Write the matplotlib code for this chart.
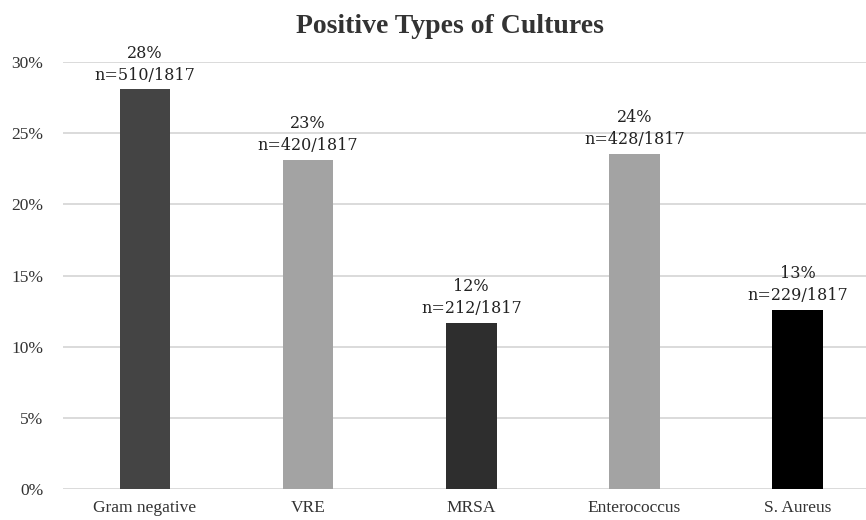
import matplotlib.pyplot as plt
from matplotlib.ticker import PercentFormatter

categories = ['Gram negative', 'VRE', 'MRSA', 'Enterococcus', 'S. Aureus']
counts = [510, 420, 212, 428, 229]
total = 1817
pct_labels = ['28%', '23%', '12%', '24%', '13%']
colors = ['#444444', '#a3a3a3', '#2e2e2e', '#a3a3a3', '#000000']

values = [c / total * 100 for c in counts]

plt.rcParams['font.family'] = ['Liberation Serif', 'DejaVu Serif']

fig = plt.figure(figsize=(8.66, 5.2), dpi=100)
ax = fig.add_axes([63 / 866, 1 - 489 / 520, (866 - 63) / 866, (489 - 62) / 520])

x = range(len(categories))
ax.bar(x, values, width=0.31, color=colors, zorder=3)

for xi, v, p, c in zip(x, values, pct_labels, counts):
    ax.annotate(f'{p}\nn={c}/{total}', (xi, v), xytext=(0, 4),
                textcoords='offset points', ha='center', va='bottom',
                fontsize=11.5, color='#222222', linespacing=1.4,
                family=['DejaVu Serif'])

ax.set_ylim(0, 30)
ax.set_xlim(-0.503, 4.42)
ax.set_yticks(range(0, 31, 5))
ax.yaxis.set_major_formatter(PercentFormatter(decimals=0))
ax.set_xticks(list(x))
ax.set_xticklabels(categories)
ax.grid(axis='y', color='#d4d4d4', linewidth=1.2, zorder=0)
for s in ax.spines.values():
    s.set_visible(False)
ax.tick_params(length=0, labelsize=12.5, colors='#333333')
ax.tick_params(axis='y', pad=14)
ax.tick_params(axis='x', pad=8)

fig.suptitle('Positive Types of Cultures', x=450 / 866, y=1 - 14 / 520,
             va='top', fontsize=20, fontweight='bold', color='#333333')

fig.savefig('out.png', dpi=100)
